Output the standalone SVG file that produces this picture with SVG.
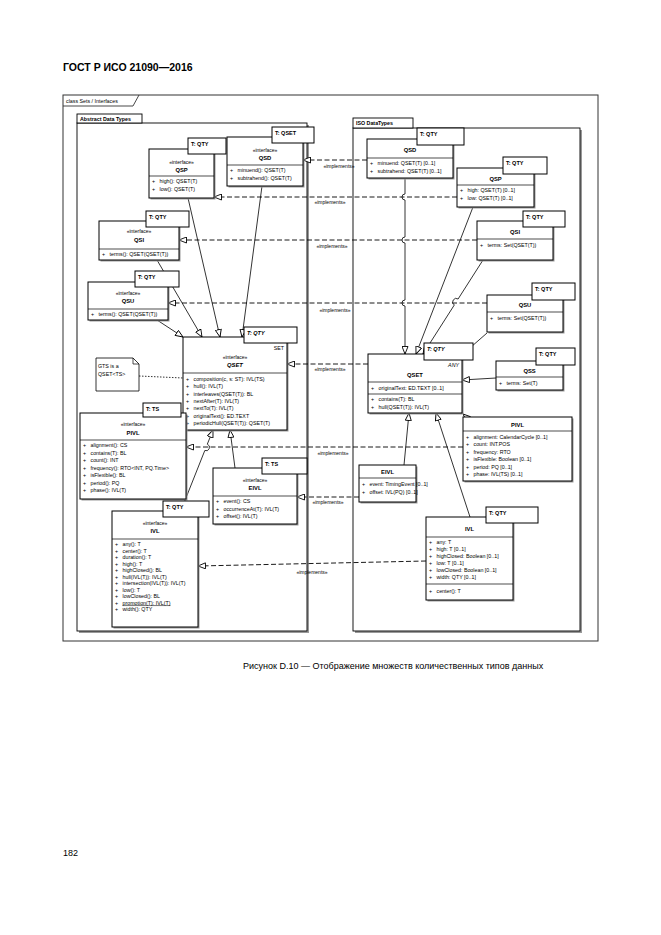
<svg xmlns="http://www.w3.org/2000/svg" width="661" height="935" viewBox="0 0 661 935">
<defs>
<marker id="tri" markerUnits="userSpaceOnUse" markerWidth="8" markerHeight="7" viewBox="0 0 8 7" refX="8" refY="3.5" orient="auto">
<path d="M0.5,0.5 L8,3.5 L0.5,6.5 z" fill="#fff" stroke="#000" stroke-width="0.9"/>
</marker>
</defs>
<style>
.b{fill:#fff;stroke:#000;stroke-width:1}
.sh{fill:#999}
.ln{stroke:#000;stroke-width:0.7;fill:none}
.tp{fill:#fff;stroke:#000;stroke-width:1}
text{font-family:"Liberation Sans",Arial,sans-serif;fill:#000;white-space:pre}
.a{font-size:5.3px}
.s{font-size:5px;text-anchor:middle}
.n{font-size:5.8px;font-weight:bold;text-anchor:middle}
.tt{font-size:5.5px;font-weight:bold}
.g{stroke:#000;stroke-width:0.8;fill:none;marker-end:url(#tri)}
.d{stroke:#000;stroke-width:0.9;fill:none;stroke-dasharray:5,2.5;marker-end:url(#tri)}
.lb{font-size:5px;text-anchor:middle}
.pk{fill:#fff;stroke:#000;stroke-width:0.9}
</style>
<rect width="661" height="935" fill="#fff"/>
<text x="63" y="71" style="font-size:10.5px;font-weight:bold">ГОСТ Р ИСО 21090—2016</text>

<g id="frame">
<rect x="63" y="95" width="535" height="546" fill="none" stroke="#333" stroke-width="1"/>
<path d="M63,106 H133 L139,95" fill="none" stroke="#333" stroke-width="0.9"/>
<text x="66" y="103" style="font-size:5.3px">class Sets / Interfaces</text>
</g>

<g id="pkg-adt">
<rect x="79" y="125" width="230" height="508" class="sh"/>
<rect x="77" y="123" width="230" height="508" class="pk"/>
<rect x="77" y="114" width="65" height="9" class="pk"/>
<text x="80" y="121" style="font-size:5.3px;font-weight:bold">Abstract Data Types</text>
</g>
<g id="pkg-iso">
<rect x="355" y="130" width="227" height="503" class="sh"/>
<rect x="353" y="128" width="227" height="503" class="pk"/>
<rect x="353" y="118" width="60" height="10" class="pk"/>
<text x="356" y="125" style="font-size:5.3px;font-weight:bold">ISO DataTypes</text>
</g>

<g id="connectors">
<path class="g" d="M157,320 L183,337"/>
<path class="g" d="M157,260 L202,337"/>
<path class="g" d="M188,198 L220,337"/>
<path class="g" d="M262,186 L242,337"/>
<path class="g" d="M190,421 L190,411"/>
<path class="g" d="M235,468 L230,430"/>
<path class="g" d="M180,513 L204.8,450.5 A3.3,3.3 0 0 0 207.3,444.2 L213,430"/>
<path class="g" d="M405,178 V194 A3,3 0 0 0 405,200 V237 A3,3 0 0 0 405,243 V300 A3,3 0 0 0 405,306 V354"/>
<path class="g" d="M473,207 L416,354"/>
<path class="g" d="M483,260 L458.1,299 A3.5,3.5 0 0 0 454.3,305 L423,354"/>
<path class="g" d="M487,333 L463,354"/>
<path class="g" d="M496,378 L462,380"/>
<path class="g" d="M472,422 L463,414"/>
<path class="g" d="M404,465 L409,413"/>
<path class="g" d="M470,517 L436,413"/>
<path class="d" d="M367,160 L303,160"/>
<path class="d" d="M457,197 L214,197"/>
<path class="d" d="M477,240 L179,240"/>
<path class="d" d="M487,303 L168,303"/>
<path class="d" d="M368,364 L287,364"/>
<path class="d" d="M463,447 L186,447"/>
<path class="d" d="M359,497 L297,497"/>
<path class="d" d="M426,561 L198,566"/>
<path d="M139,376 L183,378" stroke="#000" stroke-width="0.8" stroke-dasharray="1.5,1.5" fill="none"/>
<text class="lb" x="339" y="168">«implements»</text>
<text class="lb" x="330" y="204">«implements»</text>
<text class="lb" x="332" y="248">«implements»</text>
<text class="lb" x="335" y="312">«implements»</text>
<text class="lb" x="330" y="371">«implements»</text>
<text class="lb" x="333" y="455">«implements»</text>
<text class="lb" x="328" y="504">«implements»</text>
<text class="lb" x="312" y="574">«implements»</text>
</g>

<g id="L-QSP">
<rect x="150.5" y="150.5" width="65" height="49" class="sh"/>
<rect x="149" y="149" width="65" height="49" class="b"/>
<line x1="149" y1="176" x2="214" y2="176" class="ln"/>
<text class="s" x="181.5" y="164">«interface»</text>
<text class="n" x="181.5" y="172">QSP</text>
<text class="a" x="152" y="183">+   high(): QSET(T)</text>
<text class="a" x="152" y="191">+   low(): QSET(T)</text>
<rect x="188" y="138" width="38" height="16" class="tp"/>
<text class="tt" x="191" y="146">T: QTY</text>
</g>

<g id="L-QSD">
<rect x="228.5" y="138.5" width="76" height="49" class="sh"/>
<rect x="227" y="137" width="76" height="49" class="b"/>
<line x1="227" y1="165" x2="303" y2="165" class="ln"/>
<text class="s" x="265" y="152">«interface»</text>
<text class="n" x="265" y="160">QSD</text>
<text class="a" x="230" y="172">+   minuend(): QSET(T)</text>
<text class="a" x="230" y="180">+   subtrahend(): QSET(T)</text>
<rect x="272" y="127" width="42" height="16" class="tp"/>
<text class="tt" x="275" y="135">T: QSET</text>
</g>

<g id="L-QSI">
<rect x="100.5" y="222.5" width="80" height="39" class="sh"/>
<rect x="99" y="221" width="80" height="39" class="b"/>
<line x1="99" y1="249" x2="179" y2="249" class="ln"/>
<text class="s" x="139" y="233">«interface»</text>
<text class="n" x="139" y="242">QSI</text>
<text class="a" x="102" y="256">+   terms(): QSET(QSET(T))</text>
<rect x="146" y="211" width="43" height="16" class="tp"/>
<text class="tt" x="149" y="219">T: QTY</text>
</g>

<g id="L-QSU">
<rect x="89.5" y="283.5" width="80" height="38" class="sh"/>
<rect x="88" y="282" width="80" height="38" class="b"/>
<line x1="88" y1="309" x2="168" y2="309" class="ln"/>
<text class="s" x="128" y="295">«interface»</text>
<text class="n" x="128" y="303">QSU</text>
<text class="a" x="91" y="316">+   terms(): QSET(QSET(T))</text>
<rect x="135" y="271" width="44" height="16" class="tp"/>
<text class="tt" x="138" y="279">T: QTY</text>
</g>

<g id="L-QSET">
<rect x="184.5" y="338.5" width="104" height="93" class="sh"/>
<rect x="183" y="337" width="104" height="93" class="b"/>
<line x1="183" y1="373" x2="287" y2="373" class="ln"/>
<text x="284" y="350" style="font-size:5.3px;text-anchor:end">SET</text>
<text class="s" x="235" y="359">«interface»</text>
<text class="n" x="235" y="367" style="font-style:italic">QSET</text>
<text class="a" x="186" y="381">+   composition(c, s: ST): IVL(TS)</text>
<text class="a" x="186" y="388.3">+   hull(): IVL(T)</text>
<text class="a" x="186" y="395.6">+   interleaves(QSET(T)): BL</text>
<text class="a" x="186" y="402.9">+   nextAfter(T): IVL(T)</text>
<text class="a" x="186" y="410.2">+   nextTo(T): IVL(T)</text>
<text class="a" x="186" y="417.5">+   originalText(): ED.TEXT</text>
<text class="a" x="186" y="424.8">+   periodicHull(QSET(T)): QSET(T)</text>
<rect x="244" y="327" width="53" height="16" class="tp"/>
<text class="tt" x="247" y="335" style="font-style:italic">T: QTY</text>
</g>

<g id="note">
<path d="M96,358 H133 L139,364 V391 H96 Z" fill="#fff" stroke="#000" stroke-width="0.8"/>
<path d="M133,358 V364 H139" fill="none" stroke="#000" stroke-width="0.7"/>
<text x="98" y="368" style="font-size:5.3px">GTS is a</text>
<text x="98" y="376" style="font-size:5.3px">QSET&lt;TS&gt;</text>
</g>

<g id="L-PIVL">
<rect x="81.5" y="414.5" width="106" height="86" class="sh"/>
<rect x="80" y="413" width="106" height="86" class="b"/>
<line x1="80" y1="440" x2="186" y2="440" class="ln"/>
<text class="s" x="133" y="426">«interface»</text>
<text class="n" x="133" y="435">PIVL</text>
<text class="a" x="83" y="447">+   alignment(): CS</text>
<text class="a" x="83" y="454.5">+   contains(T): BL</text>
<text class="a" x="83" y="462">+   count(): INT</text>
<text class="a" x="83" y="469.5">+   frequency(): RTO&lt;INT, PQ.Time&gt;</text>
<text class="a" x="83" y="477">+   isFlexible(): BL</text>
<text class="a" x="83" y="484.5">+   period(): PQ</text>
<text class="a" x="83" y="492">+   phase(): IVL(T)</text>
<rect x="143" y="403" width="38" height="14" class="tp"/>
<text class="tt" x="146" y="411">T: TS</text>
</g>

<g id="L-EIVL">
<rect x="214.5" y="469.5" width="84" height="56" class="sh"/>
<rect x="213" y="468" width="84" height="56" class="b"/>
<line x1="213" y1="496" x2="297" y2="496" class="ln"/>
<text class="s" x="255" y="482">«interface»</text>
<text class="n" x="255" y="490">EIVL</text>
<text class="a" x="216" y="503">+   event(): CS</text>
<text class="a" x="216" y="510.5">+   occurrenceAt(T): IVL(T)</text>
<text class="a" x="216" y="518">+   offset(): IVL(T)</text>
<rect x="262" y="458" width="45" height="16" class="tp"/>
<text class="tt" x="265" y="466">T: TS</text>
</g>

<g id="L-IVL">
<rect x="113.5" y="512.5" width="86" height="116" class="sh"/>
<rect x="112" y="511" width="86" height="116" class="b"/>
<line x1="112" y1="539" x2="198" y2="539" class="ln"/>
<text class="s" x="155" y="525">«interface»</text>
<text class="n" x="155" y="533">IVL</text>
<text class="a" x="115" y="546">+   any(): T</text>
<text class="a" x="115" y="552.5">+   center(): T</text>
<text class="a" x="115" y="559">+   duration(): T</text>
<text class="a" x="115" y="565.5">+   high(): T</text>
<text class="a" x="115" y="572">+   highClosed(): BL</text>
<text class="a" x="115" y="578.5">+   hull(IVL(T)): IVL(T)</text>
<text class="a" x="115" y="585">+   intersection(IVL(T)): IVL(T)</text>
<text class="a" x="115" y="591.5">+   low(): T</text>
<text class="a" x="115" y="598">+   lowClosed(): BL</text>
<text class="a" x="115" y="604.5">+   <tspan text-decoration="underline">promotion(T): IVL(T)</tspan></text>
<text class="a" x="115" y="611">+   width(): QTY</text>
<rect x="163" y="501" width="46" height="16" class="tp"/>
<text class="tt" x="166" y="509">T: QTY</text>
</g>

<g id="R-QSD">
<rect x="368.5" y="140.5" width="86" height="39" class="sh"/>
<rect x="367" y="139" width="86" height="39" class="b"/>
<line x1="367" y1="158" x2="453" y2="158" class="ln"/>
<text class="n" x="410" y="152">QSD</text>
<text class="a" x="370" y="165">+   minuend: QSET(T) [0..1]</text>
<text class="a" x="370" y="173">+   subtrahend: QSET(T) [0..1]</text>
<rect x="417" y="128" width="47" height="17" class="tp"/>
<text class="tt" x="420" y="136">T: QTY</text>
</g>

<g id="R-QSP">
<rect x="458.5" y="169.5" width="77" height="39" class="sh"/>
<rect x="457" y="168" width="77" height="39" class="b"/>
<line x1="457" y1="185" x2="534" y2="185" class="ln"/>
<text class="n" x="495.5" y="181">QSP</text>
<text class="a" x="460" y="192">+   high: QSET(T) [0..1]</text>
<text class="a" x="460" y="200">+   low: QSET(T) [0..1]</text>
<rect x="503" y="157" width="44" height="17" class="tp"/>
<text class="tt" x="506" y="165">T: QTY</text>
</g>

<g id="R-QSI">
<rect x="478.5" y="222.5" width="76" height="39" class="sh"/>
<rect x="477" y="221" width="76" height="39" class="b"/>
<line x1="477" y1="239" x2="553" y2="239" class="ln"/>
<text class="n" x="515" y="234">QSI</text>
<text class="a" x="480" y="247">+   terms: Set(QSET(T))</text>
<rect x="523" y="211" width="42" height="16" class="tp"/>
<text class="tt" x="526" y="219">T: QTY</text>
</g>

<g id="R-QSU">
<rect x="488.5" y="296.5" width="76" height="37" class="sh"/>
<rect x="487" y="295" width="76" height="37" class="b"/>
<line x1="487" y1="312" x2="563" y2="312" class="ln"/>
<text class="n" x="525" y="307">QSU</text>
<text class="a" x="490" y="320">+   terms: Set(QSET(T))</text>
<rect x="532" y="283" width="43" height="17" class="tp"/>
<text class="tt" x="535" y="291">T: QTY</text>
</g>

<g id="R-QSS">
<rect x="497.5" y="362.5" width="67" height="29" class="sh"/>
<rect x="496" y="361" width="67" height="29" class="b"/>
<line x1="496" y1="377" x2="563" y2="377" class="ln"/>
<text class="n" x="529.5" y="373">QSS</text>
<text class="a" x="499" y="385">+   terms: Set(T)</text>
<rect x="536" y="348" width="39" height="17" class="tp"/>
<text class="tt" x="539" y="356">T: QTY</text>
</g>

<g id="R-QSET">
<rect x="369.5" y="355.5" width="94" height="59" class="sh"/>
<rect x="368" y="354" width="94" height="59" class="b"/>
<line x1="368" y1="382" x2="462" y2="382" class="ln"/>
<line x1="368" y1="394" x2="462" y2="394" class="ln"/>
<text x="459" y="367" style="font-size:5.3px;font-style:italic;text-anchor:end">ANY</text>
<text class="n" x="415" y="377">QSET</text>
<text class="a" x="371" y="390">+   originalText: ED.TEXT [0..1]</text>
<text class="a" x="371" y="401">+   contains(T): BL</text>
<text class="a" x="371" y="409">+   hull(QSET(T)): IVL(T)</text>
<rect x="424" y="343" width="49" height="17" class="tp"/>
<text class="tt" x="427" y="351" style="font-style:italic">T: QTY</text>
</g>

<g id="R-PIVL">
<rect x="464.5" y="418.5" width="109" height="64" class="sh"/>
<rect x="463" y="417" width="109" height="64" class="b"/>
<line x1="463" y1="431" x2="572" y2="431" class="ln"/>
<text class="n" x="517.5" y="427">PIVL</text>
<text class="a" x="466" y="438.5">+   alignment: CalendarCycle [0..1]</text>
<text class="a" x="466" y="446">+   count: INT.POS</text>
<text class="a" x="466" y="453.5">+   frequency: RTO</text>
<text class="a" x="466" y="461">+   isFlexible: Boolean [0..1]</text>
<text class="a" x="466" y="468.5">+   period: PQ [0..1]</text>
<text class="a" x="466" y="476">+   phase: IVL(TS) [0..1]</text>
</g>

<g id="R-EIVL">
<rect x="360.5" y="466.5" width="57" height="37" class="sh"/>
<rect x="359" y="465" width="57" height="37" class="b"/>
<line x1="359" y1="478" x2="416" y2="478" class="ln"/>
<text class="n" x="387.5" y="474">EIVL</text>
<text class="a" x="362" y="486">+   event: TimingEvent [0..1]</text>
<text class="a" x="362" y="494">+   offset: IVL(PQ) [0..1]</text>
</g>

<g id="R-IVL">
<rect x="427.5" y="518.5" width="87" height="83" class="sh"/>
<rect x="426" y="517" width="87" height="83" class="b"/>
<line x1="426" y1="537" x2="513" y2="537" class="ln"/>
<line x1="426" y1="584" x2="513" y2="584" class="ln"/>
<text class="n" x="469.5" y="531">IVL</text>
<text class="a" x="429" y="544">+   any: T</text>
<text class="a" x="429" y="551">+   high: T [0..1]</text>
<text class="a" x="429" y="558">+   highClosed: Boolean [0..1]</text>
<text class="a" x="429" y="565">+   low: T [0..1]</text>
<text class="a" x="429" y="572">+   lowClosed: Boolean [0..1]</text>
<text class="a" x="429" y="579">+   width: QTY [0..1]</text>
<text class="a" x="429" y="593">+   center(): T</text>
<rect x="486" y="507" width="52" height="16" class="tp"/>
<text class="tt" x="489" y="515">T: QTY</text>
</g>

<text x="243" y="669" style="font-size:9px">Рисунок D.10 — Отображение множеств количественных типов данных</text>
<text x="63" y="856" style="font-size:9px">182</text>
</svg>
